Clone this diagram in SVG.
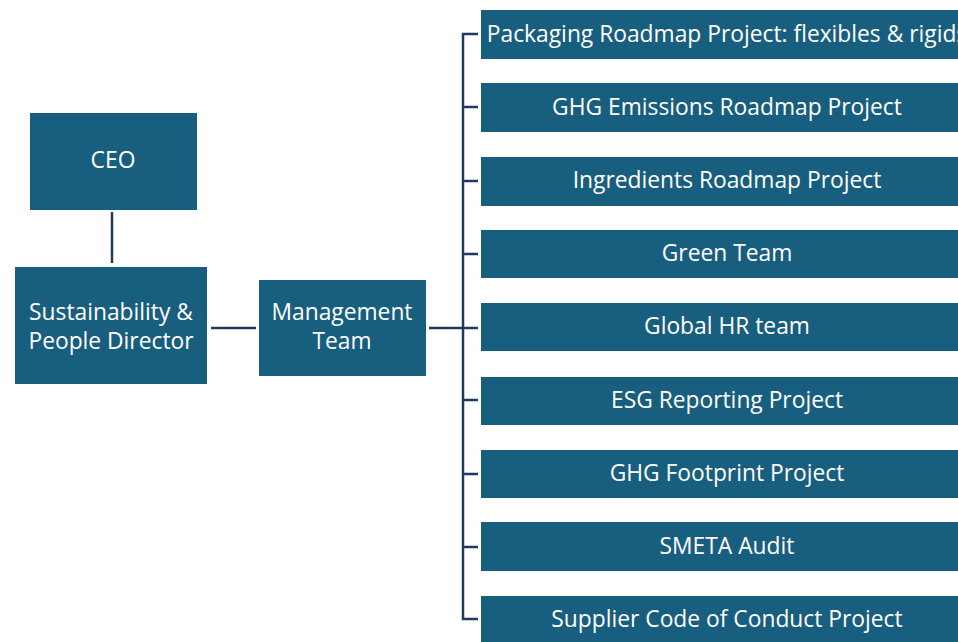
<svg xmlns="http://www.w3.org/2000/svg" width="958" height="642" viewBox="0 0 958 642">
<style>
.box{fill:#185e7e;}
.t{fill:#ffffff;font-family:"Open Sans","Liberation Sans",sans-serif;font-size:22.8px;text-anchor:middle;}
.c{stroke:#1f3a5f;stroke-width:2.5;fill:none;}
</style>
<rect width="958" height="642" fill="#ffffff"/>
<g id="connectors">
<line class="c" x1="112" y1="212" x2="112" y2="263"/>
<line class="c" x1="211" y1="328" x2="256" y2="328"/>
<line class="c" x1="429" y1="328" x2="463" y2="328"/>
<path class="c" d="M478 34 H463 V619 H478"/>
<line class="c" x1="463" y1="107" x2="478" y2="107"/>
<line class="c" x1="463" y1="181" x2="478" y2="181"/>
<line class="c" x1="463" y1="254" x2="478" y2="254"/>
<line class="c" x1="463" y1="328" x2="478" y2="328"/>
<line class="c" x1="463" y1="400" x2="478" y2="400"/>
<line class="c" x1="463" y1="474" x2="478" y2="474"/>
<line class="c" x1="463" y1="547" x2="478" y2="547"/>
</g>
<g id="ceo"><rect class="box" x="30" y="113" width="167" height="97"/><text class="t" x="113" y="168">CEO</text></g>
<g id="director"><rect class="box" x="15" y="267" width="192" height="117"/><text class="t" x="111" y="320">Sustainability &amp;</text><text class="t" x="111" y="349">People Director</text></g>
<g id="management"><rect class="box" x="259" y="280" width="167" height="96"/><text class="t" x="342" y="320">Management</text><text class="t" x="342" y="349">Team</text></g>
<g id="packaging"><rect class="box" x="481" y="10" width="490" height="49"/><text class="t" x="727" y="42">Packaging Roadmap Project: flexibles &amp; rigids</text></g>
<g id="ghg-emissions"><rect class="box" x="481" y="83" width="490" height="49"/><text class="t" x="727" y="115">GHG Emissions Roadmap Project</text></g>
<g id="ingredients"><rect class="box" x="481" y="157" width="490" height="49"/><text class="t" x="727" y="188">Ingredients Roadmap Project</text></g>
<g id="green-team"><rect class="box" x="481" y="230" width="490" height="48"/><text class="t" x="727" y="261">Green Team</text></g>
<g id="global-hr"><rect class="box" x="481" y="303" width="490" height="48"/><text class="t" x="727" y="334">Global HR team</text></g>
<g id="esg"><rect class="box" x="481" y="377" width="490" height="48"/><text class="t" x="727" y="408">ESG Reporting Project</text></g>
<g id="ghg-footprint"><rect class="box" x="481" y="450" width="490" height="48"/><text class="t" x="727" y="481">GHG Footprint Project</text></g>
<g id="smeta"><rect class="box" x="481" y="522" width="490" height="49"/><text class="t" x="727" y="554">SMETA Audit</text></g>
<g id="supplier-code"><rect class="box" x="481" y="596" width="490" height="50"/><text class="t" x="727" y="627">Supplier Code of Conduct Project</text></g>
</svg>
